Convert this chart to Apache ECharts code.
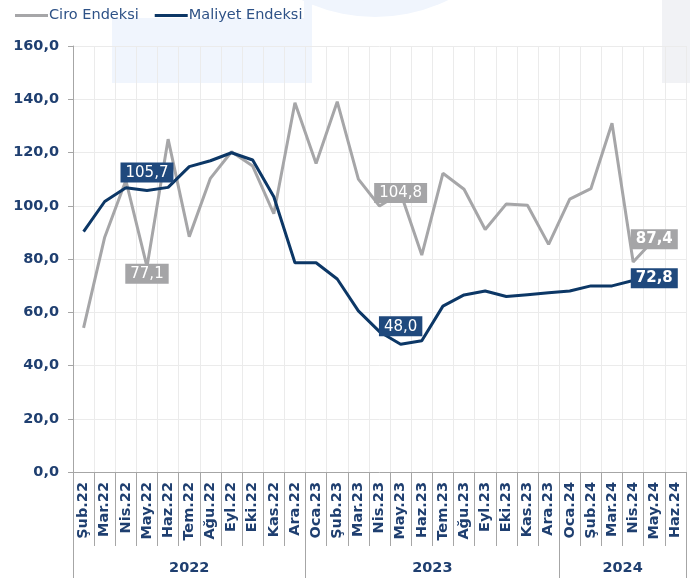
<!DOCTYPE html>
<html>
<head>
<meta charset="utf-8">
<script src="https://cdn.jsdelivr.net/npm/echarts@6/dist/echarts.min.js"></script>
<style>html,body{margin:0;padding:0;background:#fff}#c{width:690px;height:578px}</style>
</head>
<body>
<div id="c"></div>
<script>
const categories = ['Şub.22','Mar.22','Nis.22','May.22','Haz.22','Tem.22','Ağu.22','Eyl.22','Eki.22','Kas.22','Ara.22',
  'Oca.23','Şub.23','Mar.23','Nis.23','May.23','Haz.23','Tem.23','Ağu.23','Eyl.23','Eki.23','Kas.23','Ara.23',
  'Oca.24','Şub.24','Mar.24','Nis.24','May.24','Haz.24'];
const ciroValues = [54.1, 88.2, 109.5, 77.1, 125.0, 88.4, 110.3, 120.3, 114.9, 97.0, 138.7,
  115.9, 139.1, 110.0, 99.9, 104.8, 81.5, 112.2, 106.2, 91.1, 100.7, 100.2, 85.5,
  102.5, 106.4, 131.0, 78.9, 87.4, null];
const maliyetValues = [90.3, 101.6, 106.8, 105.7, 106.9, 114.7, 116.9, 119.9, 117.2, 103.4, 78.6,
  78.6, 72.5, 60.5, 52.7, 48.0, 49.3, 62.3, 66.5, 68.0, 65.9, 66.6, 67.3,
  68.0, 69.9, 69.9, 71.9, 72.8, null];
const labeledIdx = [3, 15, 27];
const yearNames = ['2022', '2023', '2024'];
const yearStarts = [0, 11, 23, 29];
const seriesNames = ['Ciro Endeksi', 'Maliyet Endeksi'];

const fmt = v => v.toFixed(1).replace('.', ',');
const txt = '#1f3f70';
const F = 'DejaVu Sans, Verdana, sans-serif';

function buildData(values, labelFor) {
  return values.map((v, i) => {
    if (labeledIdx.includes(i) && v != null) {
      return { value: v, label: Object.assign({ show: true }, labelFor(labeledIdx.indexOf(i))) };
    }
    return v;
  });
}

const ciroLabelStyles = [
  { position: 'inside', offset: [0, 7] },
  { position: 'inside' },
  { position: 'inside', fontWeight: 'bold' }
];
const maliyetLabelStyles = [
  { position: 'top', distance: 8 },
  { position: 'top', distance: 8 },
  { position: 'inside', fontWeight: 'bold' }
];

const yearLabelVals = yearNames.map((_, i) => (yearStarts[i] + yearStarts[i + 1]) / 2);

const chart = echarts.init(document.getElementById('c'), null, { renderer: 'canvas' });
chart.setOption({
  animation: false,
  backgroundColor: '#ffffff',
  graphic: [
    { type: 'rect', z: -10, shape: { x: 112, y: 18, width: 200, height: 65 }, style: { fill: '#f0f5fd' } },
    { type: 'rect', z: -10, shape: { x: 304, y: 0, width: 8, height: 20 }, style: { fill: '#f0f5fd' } },
    { type: 'circle', z: -10, shape: { cx: 375, cy: -150, r: 167 }, style: { fill: '#f0f5fd' } },
    { type: 'rect', z: -10, shape: { x: 662, y: 0, width: 28, height: 83 }, style: { fill: '#f1f2f5' } }
  ],
  legend: {
    left: 15, top: 8, padding: 0,
    itemWidth: 33, itemHeight: 3, itemGap: 16,
    icon: 'rect',
    textStyle: { fontFamily: F, fontSize: 14.5, color: '#2e5287', padding: [0, 0, 0, -4] },
    data: seriesNames
  },
  grid: { left: 73, right: 4, top: 46, bottom: 106, containLabel: false },
  xAxis: [
    {
      type: 'category', data: categories, boundaryGap: true,
      axisLine: { show: true, lineStyle: { color: '#a6a6a6', width: 1 } },
      axisTick: { show: true, interval: 0, length: 74, lineStyle: { color: '#a6a6a6' } },
      splitLine: { show: true, interval: 0, lineStyle: { color: '#ebebeb' } },
      axisLabel: { interval: 0, rotate: 90, margin: 10, fontFamily: F, fontWeight: 'bold', fontSize: 14.5, color: txt }
    },
    {
      type: 'value', min: 0, max: 29, position: 'bottom',
      axisLine: { show: false },
      splitLine: { show: false },
      axisTick: { show: true, customValues: yearStarts, length: 106, lineStyle: { color: '#a6a6a6' } },
      axisLabel: {
        customValues: yearLabelVals, margin: 89,
        formatter: v => yearNames[yearLabelVals.indexOf(v)],
        fontFamily: F, fontWeight: 'bold', fontSize: 14.5, color: txt
      }
    }
  ],
  yAxis: {
    type: 'value', min: 0, max: 160, interval: 20,
    axisLine: { show: true, lineStyle: { color: '#a6a6a6' } },
    axisTick: { show: true, length: 5, lineStyle: { color: '#a6a6a6' } },
    splitLine: { show: true, lineStyle: { color: '#ebebeb' } },
    axisLabel: { formatter: v => fmt(v), margin: 14, fontFamily: F, fontWeight: 'bold', fontSize: 14.5, color: txt }
  },
  series: [
    {
      name: seriesNames[0], type: 'line', xAxisIndex: 0,
      data: buildData(ciroValues, k => ciroLabelStyles[k]),
      color: '#a6a6a8',
      lineStyle: { width: 3, color: '#a6a6a8' },
      symbol: 'circle', symbolSize: 0, showSymbol: true,
      label: {
        formatter: p => fmt(p.value), fontFamily: F, fontSize: 15, color: '#ffffff',
        backgroundColor: '#a5a5a7', padding: [3, 5, 2, 5]
      },
      z: 2
    },
    {
      name: seriesNames[1], type: 'line', xAxisIndex: 0,
      data: buildData(maliyetValues, k => maliyetLabelStyles[k]),
      color: '#0c3766',
      lineStyle: { width: 3, color: '#0c3766' },
      symbol: 'circle', symbolSize: 0, showSymbol: true,
      label: {
        formatter: p => fmt(p.value), fontFamily: F, fontSize: 15, color: '#ffffff',
        backgroundColor: '#1f497d', padding: [3, 5, 2, 5]
      },
      z: 3
    }
  ]
});
</script>
</body>
</html>
